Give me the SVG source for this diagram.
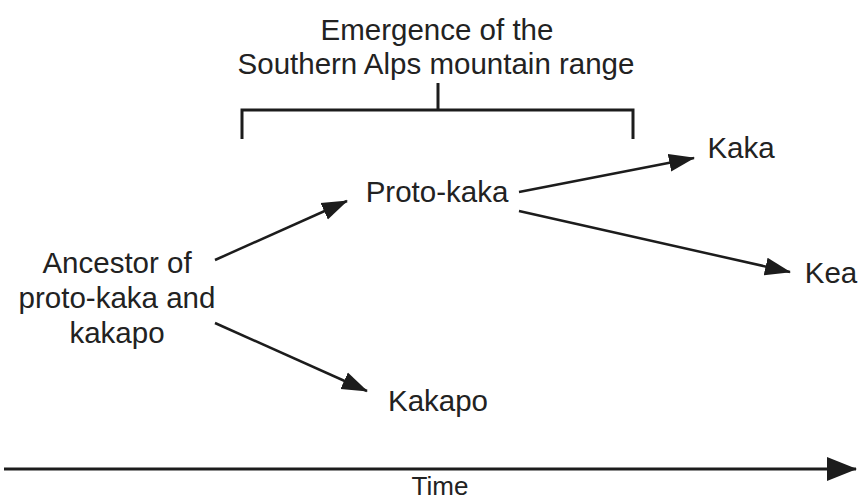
<svg xmlns="http://www.w3.org/2000/svg" width="859" height="502" viewBox="0 0 859 502">
<defs>
<style>
text { font-family: "Liberation Sans", Arial, sans-serif; font-size: 29.5px; fill: #222; text-anchor: middle; }
.ln { stroke: #1c1c1c; stroke-width: 2.5; fill: none; }
.br { stroke: #1c1c1c; stroke-width: 3; fill: none; }
</style>
<marker id="ah" markerUnits="userSpaceOnUse" markerWidth="26" markerHeight="20" viewBox="0 0 26 20" refX="25" refY="10" orient="auto">
<path d="M0,1 L26,10 L0,19 z" fill="#1c1c1c"/>
</marker>
<marker id="ahT" markerUnits="userSpaceOnUse" markerWidth="30" markerHeight="26" viewBox="0 0 30 26" refX="29" refY="13" orient="auto">
<path d="M0,1 L30,13 L0,25 z" fill="#1c1c1c"/>
</marker>
</defs>
<rect width="859" height="502" fill="#fff"/>
<g id="alps">
<text x="437" y="40">Emergence of the</text>
<text x="436" y="74">Southern Alps mountain range</text>
<path class="br" d="M438,83 V110 M242,139 V110 H633 V139"/>
</g>
<g id="ancestor">
<text x="117" y="273">Ancestor of</text>
<text x="117" y="308">proto-kaka and</text>
<text x="117" y="343">kakapo</text>
</g>
<g id="proto-kaka"><text x="437" y="202">Proto-kaka</text></g>
<g id="kaka"><text x="741" y="158">Kaka</text></g>
<g id="kea"><text x="831" y="283">Kea</text></g>
<g id="kakapo"><text x="438" y="411">Kakapo</text></g>
<g id="connectors">
<line class="ln" x1="215" y1="260" x2="347" y2="201" marker-end="url(#ah)"/>
<line class="ln" x1="215" y1="323" x2="367" y2="391" marker-end="url(#ah)"/>
<line class="ln" x1="519" y1="192" x2="694" y2="158" marker-end="url(#ah)"/>
<line class="ln" x1="519" y1="211" x2="790" y2="272" marker-end="url(#ah)"/>
</g>
<g id="time-axis">
<line class="br" x1="4" y1="469" x2="856" y2="469" marker-end="url(#ahT)"/>
<text x="440" y="495" style="font-size:26px">Time</text>
</g>
</svg>
